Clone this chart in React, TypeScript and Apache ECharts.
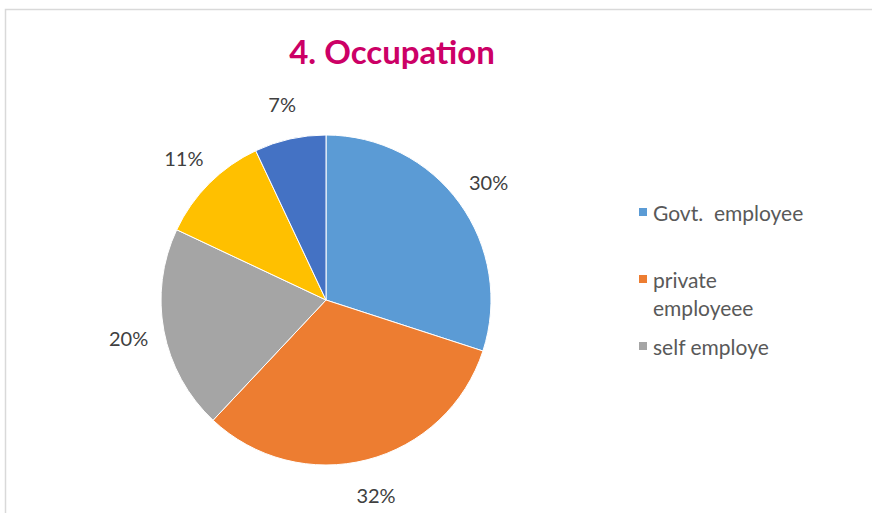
import React, { useEffect, useRef } from "react";
import * as echarts from "echarts";

const categories = ["Govt.  employee", "private\nemployeee", "self employe", "category 4", "category 5"];
const values = [30, 32, 20, 11, 7];
const colors = ["#5B9BD5", "#ED7D31", "#A5A5A5", "#FFC000", "#4472C4"];
const legendTops = [198, 265, 332];

export default function App() {
  const ref = useRef<HTMLDivElement>(null);
  useEffect(() => {
    document.body.style.margin = "0";
    const chart = echarts.init(ref.current!, null, { renderer: "svg" });
    const legends = [0, 1, 2].map((i) => ({
      data: [categories[i]],
      left: 637,
      top: legendTops[i],
      orient: "vertical",
      padding: 0,
      itemWidth: 10,
      itemHeight: i === 1 ? 38 : 10,
      itemGap: 0,
      icon: i === 1 ? "path://M0,0L10,0L10,10L0,10ZM0,38" : "rect",
      textStyle: { color: "#595959", fontSize: 21, fontFamily: "Lato", lineHeight: 28 },
    }));
    chart.setOption({
      animation: false,
      title: {
        text: "4. Occupation",
        left: 387,
        top: 29,
        textAlign: "center",
        textStyle: { color: "#CC0066", fontSize: 33, fontWeight: "bold", fontFamily: "Lato" },
      },
      graphic: [
        {
          type: "rect",
          shape: { x: 5.5, y: 9.5, width: 900, height: 600 },
          style: { fill: "none", stroke: "#D9D9D9", lineWidth: 1.5 },
          silent: true,
        },
      ],
      legend: legends,
      series: [
        {
          type: "pie",
          center: [326, 300],
          radius: 165,
          startAngle: 90,
          clockwise: true,
          data: categories.map((n, i) => ({ name: n, value: values[i], itemStyle: { color: colors[i] } })),
          itemStyle: { borderColor: "#fff", borderWidth: 1 },
          label: { show: false },
          labelLine: { show: false },
        },
        {
          type: "pie",
          center: [326, 300],
          radius: [193, 203],
          startAngle: 90,
          clockwise: true,
          silent: true,
          data: categories.map((n, i) => ({ name: n, value: values[i] })),
          itemStyle: { color: "rgba(0,0,0,0)" },
          label: {
            show: true,
            position: "inside",
            formatter: "{c}%",
            color: "#404040",
            fontSize: 20,
            fontFamily: "Lato",
          },
          labelLine: { show: false },
        },
      ],
    });
    return () => chart.dispose();
  }, []);
  return <div ref={ref} style={{ width: 872, height: 513 }} />;
}
